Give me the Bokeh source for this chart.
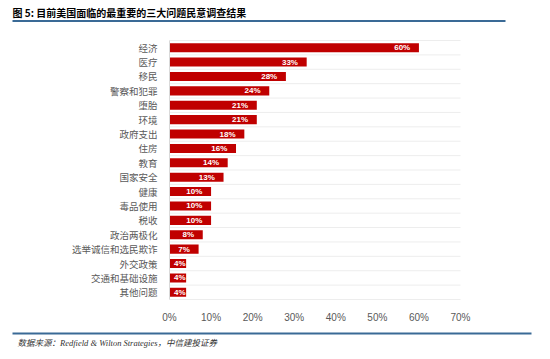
from bokeh.plotting import figure
from bokeh.models import Range1d, FixedTicker, ColumnDataSource, Label, BoxAnnotation
from bokeh.embed import file_html
from bokeh.resources import INLINE

categories = ["经济", "医疗", "移民", "警察和犯罪", "堕胎", "环境", "政府支出", "住房", "教育",
              "国家安全", "健康", "毒品使用", "税收", "政治两极化", "选举诚信和选民欺诈",
              "外交政策", "交通和基础设施", "其他问题"]
values = [60, 33, 28, 24, 21, 21, 18, 16, 14, 13, 10, 10, 10, 8, 7, 4, 4, 4]
x_ticks = [0, 10, 20, 30, 40, 50, 60, 70]
title_text = "图 5: 目前美国面临的最重要的三大问题民意调查结果"
footer_text = "数据来源：Redfield & Wilton Strategies，中信建投证券"

W, H = 542, 351
# plot area in canvas pixels (the whole canvas is the frame)
PL, PR, PT, PB = 169, 460, 40, 299
XMIN, XMAX = x_ticks[0], x_ticks[-1]
n = len(categories)
pos = list(range(n))
YTOP, YBOT = -0.5, n - 0.5

xpx = (PR - PL) / (XMAX - XMIN)
ypx = (PB - PT) / (YBOT - YTOP)
x_range = Range1d(XMIN - PL / xpx, XMAX + (W - PR) / xpx)
y_range = Range1d(YBOT + (H - PB) / ypx, YTOP - PT / ypx)

labels = [f"{v}%" for v in values]
# "inside end" placement: padded from the bar end, unless the bar is too short
offsets = []
for v, lab in zip(values, labels):
    bar_px = v * xpx
    lab_px = 4.8 * len(lab)
    offsets.append(-8.7 if bar_px - 8.7 - lab_px >= 3 else -0.6)

src = ColumnDataSource(dict(y=pos, v=values, lab=labels, off=offsets))

p = figure(width=W, height=H, output_backend="svg", toolbar_location=None,
           x_range=x_range, y_range=y_range,
           min_border_left=0, min_border_right=0, min_border_top=0, min_border_bottom=0)
p.outline_line_color = None
p.background_fill_color = "white"
p.xgrid.grid_line_color = None
p.ygrid.grid_line_color = None

# horizontal grid lines between categories, spanning the value axis
bounds = [i - 0.5 for i in range(n + 1)]
p.segment(x0=[XMIN] * len(bounds), x1=[XMAX] * len(bounds), y0=bounds, y1=bounds,
          line_color="#EDEDED", line_width=1)

p.hbar(y="y", right="v", left=0, height=0.63, source=src, fill_color="#C00000", line_color=None)
p.text(x="v", y="y", text="lab", source=src, text_align="right", text_baseline="middle",
       x_offset="off", text_color="white", text_font_size="8px", text_font_style="bold")

# x axis drawn at the bottom of the plot area
xa = p.xaxis[0]
xa.fixed_location = YBOT
xa.bounds = (XMIN, XMAX)
xa.ticker = FixedTicker(ticks=x_ticks)
xa.major_label_overrides = {t: f"{t}%" for t in x_ticks}
xa.axis_line_color = None
xa.major_tick_line_color = None
xa.minor_tick_line_color = None
xa.major_label_text_color = "#595959"
xa.major_label_text_font_size = "10px"
xa.major_label_standoff = 6

# y axis drawn at x = 0
ya = p.yaxis[0]
ya.fixed_location = XMIN
ya.bounds = (YTOP, YBOT)
ya.ticker = FixedTicker(ticks=pos)
ya.major_label_overrides = {i: c for i, c in enumerate(categories)}
ya.axis_line_color = "#D9D9D9"
ya.major_tick_line_color = None
ya.minor_tick_line_color = None
ya.major_label_text_color = "#595959"
ya.major_label_text_font = "Noto Sans CJK SC"
ya.major_label_text_font_size = "9.5px"
ya.major_label_standoff = 6

RULE = "#3A6A96"
# title, rules and source note (screen units from the frame's bottom-left = canvas bottom-left)
p.add_layout(Label(x=12, y=H - 12, x_units="screen", y_units="screen", text=title_text,
                   text_font="Noto Sans CJK SC", text_font_style="bold", text_font_size="10px",
                   text_color="black", text_baseline="middle"))
p.add_layout(BoxAnnotation(left=12, right=505, top=H - 19.5, bottom=H - 21.5, left_units="screen",
                           right_units="screen", top_units="screen", bottom_units="screen",
                           fill_color=RULE, fill_alpha=1, line_color=None))
p.add_layout(BoxAnnotation(left=12, right=531, top=H - 332, bottom=H - 334, left_units="screen",
                           right_units="screen", top_units="screen", bottom_units="screen",
                           fill_color=RULE, fill_alpha=1, line_color=None))
p.add_layout(Label(x=17, y=H - 342, x_units="screen", y_units="screen", text=footer_text,
                   text_font="'Liberation Serif', 'Noto Sans CJK SC'", text_font_style="italic",
                   text_font_size="8.5px", text_color="#333333", text_baseline="middle"))

open("out.html", "w").write(file_html(p, INLINE))
